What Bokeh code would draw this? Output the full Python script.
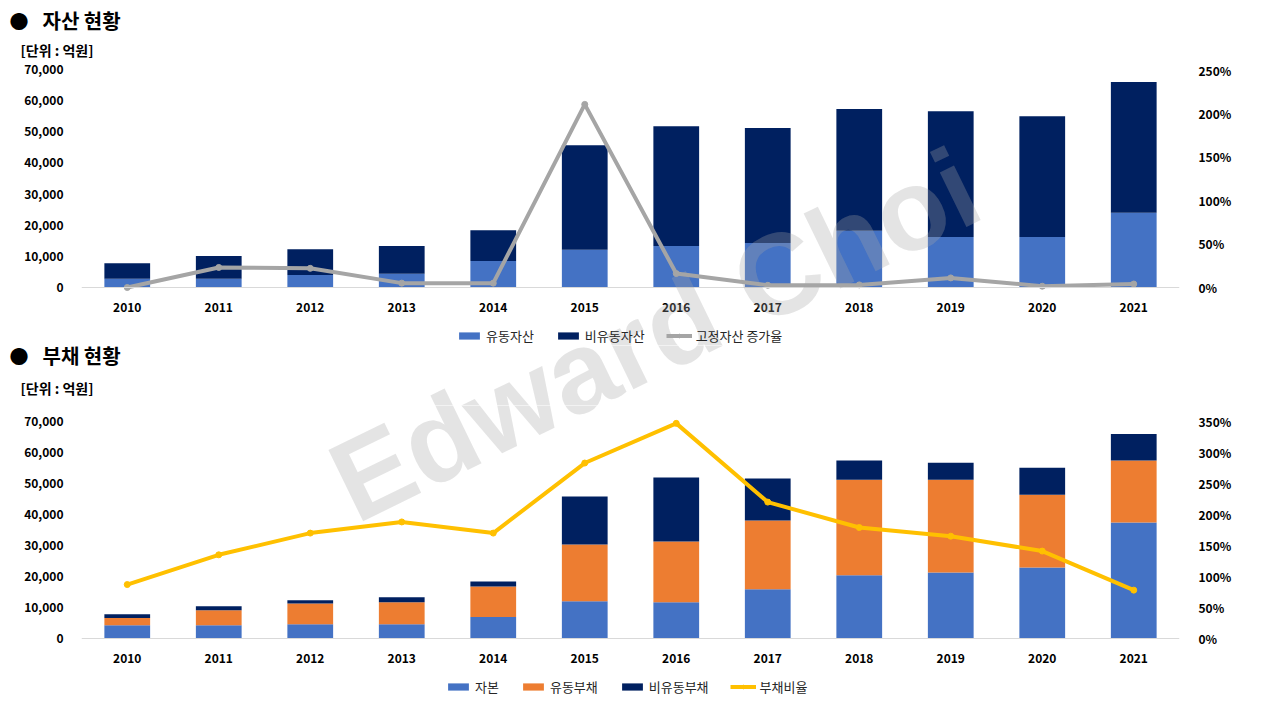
from bokeh.plotting import figure
from bokeh.models import (FactorRange, Range1d, LinearAxis, NumeralTickFormatter,
                          PrintfTickFormatter, FixedTicker, Legend, LegendItem, Label,
                          Title, Span, ColumnDataSource, Plot)
from bokeh.core.properties import value
from bokeh.layouts import column
from bokeh.embed import file_html
from bokeh.resources import INLINE
import math

# ---------------- data ----------------
years = ["2010", "2011", "2012", "2013", "2014", "2015",
         "2016", "2017", "2018", "2019", "2020", "2021"]

# 자산 현황 (억원)
current_assets = [2800, 2800, 4050, 4400, 8500, 12100, 13300, 14300, 18200, 16200, 16200, 24000]
noncurrent_assets = [5000, 7300, 8250, 8900, 9900, 33600, 38500, 36900, 39100, 40400, 38800, 42000]
fixed_asset_growth = [0, 23, 22, 5, 5, 210, 16, 2.5, 3, 11, 1.5, 4]  # %

# 부채 현황 (억원)
equity = [4300, 4300, 4600, 4600, 6900, 12000, 11700, 15900, 20400, 21300, 22900, 37400]
current_liab = [2350, 4800, 6660, 7100, 9900, 18300, 19600, 22200, 30800, 29900, 23500, 20000]
noncurrent_liab = [1150, 1300, 1040, 1600, 1600, 15500, 20600, 13500, 6200, 5500, 8700, 8600]
debt_ratio = [87, 135, 170, 188, 170, 283, 347, 220, 179, 165, 141, 78]  # %

left_ticks = [0, 10000, 20000, 30000, 40000, 50000, 60000, 70000]
right_ticks_top = [0, 50, 100, 150, 200, 250]
right_ticks_bottom = [0, 50, 100, 150, 200, 250, 300, 350]

BLUE = "#4472C4"
NAVY = "#002060"
ORANGE = "#ED7D31"
GREY = "#A5A5A5"
YELLOW = "#FFC000"
FONT = "Noto Sans CJK KR"

W = 1280
FRAME_L = 81
FRAME_R = 101
LEFT_MAX = 70000
HAS_FA = "frame_align" in Plot.properties()


def make_fig(height, top, above_px, plot_px, below_px, right_max, right_ticks):
    # frame runs from `top` to the bottom of the figure; `above_px` pixels of the
    # frame lie over the top tick, `plot_px` span the value axis, `below_px` lie under 0
    lo = -below_px / plot_px
    hi = 1 + above_px / plot_px
    p = figure(x_range=FactorRange(*years), y_range=Range1d(lo * LEFT_MAX, hi * LEFT_MAX),
               width=W, height=height, output_backend="svg", toolbar_location=None,
               x_axis_location=None, title=None,
               min_border_left=FRAME_L, min_border_right=FRAME_R,
               min_border_top=top, min_border_bottom=0)
    p.outline_line_color = None
    p.xgrid.visible = False
    p.ygrid.visible = False

    p.yaxis.ticker = FixedTicker(ticks=left_ticks)
    p.yaxis.formatter = NumeralTickFormatter(format="0,0")
    p.yaxis.axis_line_color = None
    p.yaxis.major_tick_line_color = None
    p.yaxis.minor_tick_line_color = None
    p.yaxis.major_label_standoff = 12
    p.yaxis.major_label_text_font = FONT
    p.yaxis.major_label_text_font_style = "bold"
    p.yaxis.major_label_text_font_size = "12px"
    p.yaxis.major_label_text_color = "#000000"

    p.extra_y_ranges = {"pct": Range1d(lo * right_max, hi * right_max)}
    ax = LinearAxis(y_range_name="pct", ticker=FixedTicker(ticks=right_ticks),
                    formatter=PrintfTickFormatter(format="%d%%"))
    ax.axis_line_color = None
    ax.major_tick_line_color = None
    ax.minor_tick_line_color = None
    ax.major_label_standoff = 13
    ax.major_label_text_font = FONT
    ax.major_label_text_font_style = "bold"
    ax.major_label_text_font_size = "12px"
    ax.major_label_text_color = "#000000"
    p.add_layout(ax, "right")

    # category axis: base line + year labels
    p.add_layout(Span(location=0, dimension="width", line_color="#D9D9D9", line_width=1))
    return p


def year_labels(p, src):
    p.text(x="year", y=0, text="year", source=src, y_offset=20,
           text_align="center", text_baseline="middle",
           text_font=value(FONT), text_font_size=value("12px"),
           text_font_style="bold", text_color="#000000")


def watermark(p, x, y):
    p.add_layout(Label(x=x, y=y, x_units="screen", y_units="screen",
                       text="Edward Choi", angle=math.radians(26),
                       text_align="center", text_baseline="middle",
                       text_font="Liberation Sans", text_font_style="bold",
                       text_font_size="115px", text_color="#A6A6A6", text_alpha=0.3,
                       level="overlay"))


def legend(p, items, x0, y0):
    lg = Legend(items=items, orientation="horizontal", location=(x0, y0),
                border_line_color=None, background_fill_alpha=0,
                glyph_width=26, glyph_height=9, label_standoff=4, spacing=21,
                padding=1, margin=0, label_height=14, label_text_font=FONT,
                label_text_font_size="13px", label_text_color="#262626")
    p.add_layout(lg, "center")


def head_fig(height):
    h = figure(x_range=Range1d(0, 1), y_range=Range1d(0, 1), width=W, height=height,
               output_backend="svg", toolbar_location=None, title=None,
               x_axis_location=None, y_axis_location=None,
               min_border=0, min_border_left=0, min_border_right=0,
               min_border_top=0, min_border_bottom=0)
    h.outline_line_color = None
    h.xgrid.visible = False
    h.ygrid.visible = False
    if HAS_FA:
        h.frame_align = False
    return h


def head_labels(h, title, title_y, unit_y):
    h.add_layout(Label(x=9, y=title_y, x_units="screen", y_units="screen", text="●",
                       text_font=FONT, text_font_size="19px", text_baseline="middle",
                       text_color="#000000"))
    h.add_layout(Label(x=42, y=title_y, x_units="screen", y_units="screen", text=title,
                       text_font=FONT, text_font_size="20px", text_font_style="bold",
                       text_baseline="middle", text_color="#000000"))
    h.add_layout(Label(x=20, y=unit_y, x_units="screen", y_units="screen",
                       text="[단위 : 억원]", text_font=FONT, text_font_size="14px",
                       text_font_style="bold", text_baseline="middle",
                       text_color="#000000"))


children = []

# ---------------- top chart (page y 0..345) ----------------
H1, PLOT1 = 345, 218
if HAS_FA:
    HH1 = 61
    head1 = head_fig(HH1)
    head_labels(head1, "자산 현황", HH1 - 20, HH1 - 49)
    children.append(head1)
    p1 = make_fig(H1 - HH1, 0, 8, PLOT1, H1 - HH1 - 8 - PLOT1, 250, right_ticks_top)
else:
    p1 = make_fig(H1, 69, 0, PLOT1, H1 - 69 - PLOT1, 250, right_ticks_top)
    p1.add_layout(Title(text="[단위 : 억원]", align="left", offset=-61, standoff=17,
                        text_font=FONT, text_font_size="13px", text_font_style="bold",
                        text_color="#000000"), "above")
    p1.add_layout(Title(text="●\u00a0\u00a0\u00a0자산 현황", align="left", offset=-71,
                        standoff=3, text_font=FONT, text_font_size="20px",
                        text_font_style="bold", text_color="#000000"), "above")

src1 = ColumnDataSource(dict(year=years, cur=current_assets, noncur=noncurrent_assets,
                             growth=fixed_asset_growth))
bars1 = p1.vbar_stack(["cur", "noncur"], x="year", width=0.5, color=[BLUE, NAVY],
                      line_color=None, source=src1)
l1 = p1.line(x="year", y="growth", source=src1, y_range_name="pct",
             line_color=GREY, line_width=4)
m1 = p1.scatter(x="year", y="growth", source=src1, y_range_name="pct",
                size=6, color=GREY)
year_labels(p1, src1)
legend(p1, [LegendItem(label="유동자산", renderers=[bars1[0]]),
            LegendItem(label="비유동자산", renderers=[bars1[1]]),
            LegendItem(label="고정자산 증가율", renderers=[l1, m1])], 375, 0)
watermark(p1, 573, 11)
children.append(p1)

# ---------------- heading band of the bottom chart (page y 345..405) ----------------
HH2 = 60
head2 = head_fig(HH2)
head_labels(head2, "부채 현황", 50, 18)
watermark(head2, 654 if HAS_FA else 573, HH2 + 11)
children.append(head2)

# ---------------- bottom chart (page y 405..720) ----------------
H2, PLOT2 = 315, 217
p2 = make_fig(H2, 0, 16, PLOT2, H2 - 16 - PLOT2, 350, right_ticks_bottom)
src2 = ColumnDataSource(dict(year=years, eq=equity, cl=current_liab, ncl=noncurrent_liab,
                             ratio=debt_ratio))
bars2 = p2.vbar_stack(["eq", "cl", "ncl"], x="year", width=0.5,
                      color=[BLUE, ORANGE, NAVY], line_color=None, source=src2)
l2 = p2.line(x="year", y="ratio", source=src2, y_range_name="pct",
             line_color=YELLOW, line_width=4)
m2 = p2.scatter(x="year", y="ratio", source=src2, y_range_name="pct",
                size=6, color=YELLOW)
year_labels(p2, src2)
legend(p2, [LegendItem(label="자본", renderers=[bars2[0]]),
            LegendItem(label="유동부채", renderers=[bars2[1]]),
            LegendItem(label="비유동부채", renderers=[bars2[2]]),
            LegendItem(label="부채비율", renderers=[l2, m2])], 364, 24)
watermark(p2, 573, 386)
children.append(p2)

layout = column(*children)
open("out.html", "w").write(file_html(layout, INLINE))
